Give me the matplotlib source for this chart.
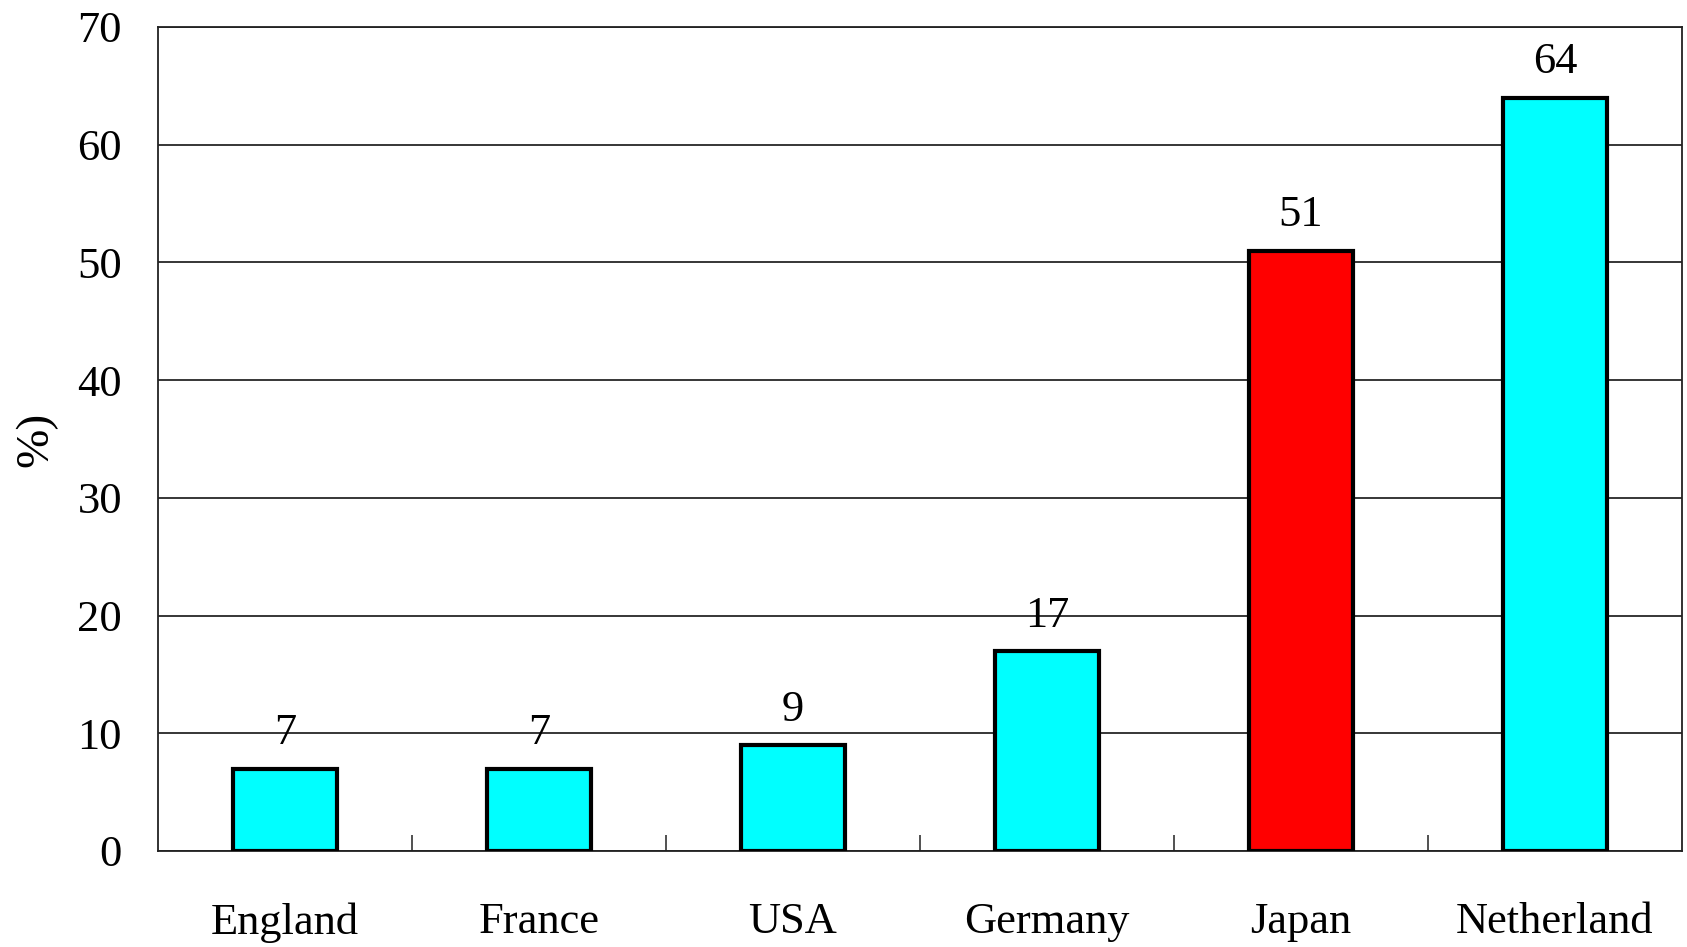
import matplotlib
matplotlib.use("Agg")
import matplotlib.pyplot as plt

countries = ["England", "France", "USA", "Germany", "Japan", "Netherland"]
values = [7, 7, 9, 17, 51, 64]
bar_colors = ["#00FFFF", "#00FFFF", "#00FFFF", "#00FFFF", "#FF0000", "#00FFFF"]
y_ticks = [0, 10, 20, 30, 40, 50, 60, 70]
y_label = "%)"

plt.rcParams["font.family"] = ["Liberation Serif", "DejaVu Serif"]

fig = plt.figure(figsize=(16.87, 9.47), dpi=100)
ax = fig.add_axes([0.0937, 0.1014, 0.9033, 0.8701])

x = list(range(len(countries)))
bars = ax.bar(x, values, width=0.41, color=bar_colors, edgecolor="black",
              linewidth=3.0, zorder=3)

for xi, v in zip(x, values):
    ax.annotate(str(v), (xi, v), xytext=(0, 11), textcoords="offset points",
                ha="center", va="bottom", fontsize=32, zorder=4)

ax.set_xlim(-0.5, len(countries) - 0.5)
ax.set_ylim(0, 70)
ax.set_yticks(y_ticks)
ax.set_yticklabels([str(t) for t in y_ticks], fontsize=32)
ax.tick_params(axis="y", length=0, pad=26)

# category labels centred under bars, ticks drawn between categories
ax.set_xticks(x)
ax.set_xticklabels(countries, fontsize=32)
ax.tick_params(axis="x", which="major", length=0, pad=37)
ax.set_xticks([i + 0.5 for i in x[:-1]], minor=True)
ax.tick_params(axis="x", which="minor", direction="in", length=11.5,
               width=1.2, color="#333333")

ax.yaxis.grid(True, color="black", linewidth=1.1, zorder=1)
ax.set_axisbelow(True)
for s in ax.spines.values():
    s.set_linewidth(1.3)
    s.set_color("#222222")

ax.set_ylabel(y_label, fontsize=34, labelpad=14)

fig.savefig("out.png", dpi=100)
